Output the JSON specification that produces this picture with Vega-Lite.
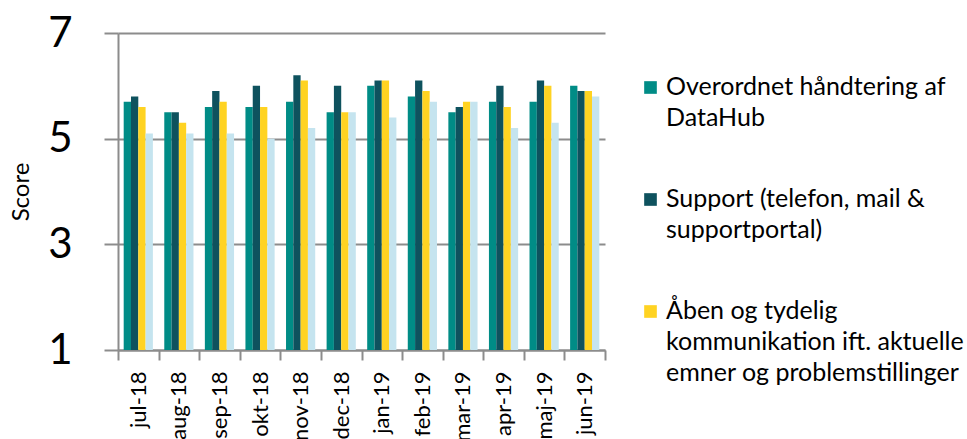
{
  "$schema": "https://vega.github.io/schema/vega-lite/v6.json",
  "width": 487,
  "height": 317,
  "autosize": "none",
  "padding": {"left": 118, "top": 33, "right": 362, "bottom": 89},
  "background": "white",
  "config": {
    "font": "Lato",
    "view": {"stroke": null}
  },
  "data": {
    "values": [
      {"month": "jul-18", "series": "A", "score": 5.7},
      {"month": "jul-18", "series": "B", "score": 5.8},
      {"month": "jul-18", "series": "C", "score": 5.6},
      {"month": "jul-18", "series": "D", "score": 5.1},
      {"month": "aug-18", "series": "A", "score": 5.5},
      {"month": "aug-18", "series": "B", "score": 5.5},
      {"month": "aug-18", "series": "C", "score": 5.3},
      {"month": "aug-18", "series": "D", "score": 5.1},
      {"month": "sep-18", "series": "A", "score": 5.6},
      {"month": "sep-18", "series": "B", "score": 5.9},
      {"month": "sep-18", "series": "C", "score": 5.7},
      {"month": "sep-18", "series": "D", "score": 5.1},
      {"month": "okt-18", "series": "A", "score": 5.6},
      {"month": "okt-18", "series": "B", "score": 6.0},
      {"month": "okt-18", "series": "C", "score": 5.6},
      {"month": "okt-18", "series": "D", "score": 5.0},
      {"month": "nov-18", "series": "A", "score": 5.7},
      {"month": "nov-18", "series": "B", "score": 6.2},
      {"month": "nov-18", "series": "C", "score": 6.1},
      {"month": "nov-18", "series": "D", "score": 5.2},
      {"month": "dec-18", "series": "A", "score": 5.5},
      {"month": "dec-18", "series": "B", "score": 6.0},
      {"month": "dec-18", "series": "C", "score": 5.5},
      {"month": "dec-18", "series": "D", "score": 5.5},
      {"month": "jan-19", "series": "A", "score": 6.0},
      {"month": "jan-19", "series": "B", "score": 6.1},
      {"month": "jan-19", "series": "C", "score": 6.1},
      {"month": "jan-19", "series": "D", "score": 5.4},
      {"month": "feb-19", "series": "A", "score": 5.8},
      {"month": "feb-19", "series": "B", "score": 6.1},
      {"month": "feb-19", "series": "C", "score": 5.9},
      {"month": "feb-19", "series": "D", "score": 5.7},
      {"month": "mar-19", "series": "A", "score": 5.5},
      {"month": "mar-19", "series": "B", "score": 5.6},
      {"month": "mar-19", "series": "C", "score": 5.7},
      {"month": "mar-19", "series": "D", "score": 5.7},
      {"month": "apr-19", "series": "A", "score": 5.7},
      {"month": "apr-19", "series": "B", "score": 6.0},
      {"month": "apr-19", "series": "C", "score": 5.6},
      {"month": "apr-19", "series": "D", "score": 5.2},
      {"month": "maj-19", "series": "A", "score": 5.7},
      {"month": "maj-19", "series": "B", "score": 6.1},
      {"month": "maj-19", "series": "C", "score": 6.0},
      {"month": "maj-19", "series": "D", "score": 5.3},
      {"month": "jun-19", "series": "A", "score": 6.0},
      {"month": "jun-19", "series": "B", "score": 5.9},
      {"month": "jun-19", "series": "C", "score": 5.9},
      {"month": "jun-19", "series": "D", "score": 5.8}
    ]
  },
  "mark": {"type": "bar"},
  "encoding": {
    "x": {
      "field": "month",
      "type": "nominal",
      "sort": null,
      "scale": {"paddingInner": 0, "paddingOuter": 0},
      "axis": {
        "title": null,
        "labelAngle": -90,
        "labelAlign": "right",
        "labelBaseline": "middle",
        "labelFontSize": 22,
        "labelColor": "#000000",
        "labelPadding": 11,
        "tickBand": "extent",
        "tickSize": 10,
        "tickColor": "#8c8c8c",
        "tickWidth": 2,
        "domainColor": "#8c8c8c",
        "domainWidth": 2
      }
    },
    "xOffset": {
      "field": "series",
      "type": "nominal",
      "scale": {"paddingInner": 0, "paddingOuter": 0.78}
    },
    "y": {
      "field": "score",
      "type": "quantitative",
      "scale": {"domain": [1, 7], "nice": false, "zero": false},
      "axis": {
        "title": "Score",
        "titleFontSize": 24,
        "titleFontWeight": "normal",
        "titleColor": "#000000",
        "titlePadding": 14,
        "values": [1, 3, 5, 7],
        "labelFontSize": 42,
        "labelColor": "#000000",
        "labelPadding": 32,
        "tickSize": 14,
        "tickColor": "#8c8c8c",
        "tickWidth": 2,
        "domainColor": "#8c8c8c",
        "domainWidth": 2,
        "grid": true,
        "gridColor": "#8c8c8c",
        "gridWidth": 2
      }
    },
    "y2": {"datum": 1},
    "color": {
      "field": "series",
      "type": "nominal",
      "scale": {
        "domain": ["A", "B", "C", "D"],
        "range": ["#008C86", "#0E525E", "#FFD322", "#C5E4EF"]
      },
      "legend": {
        "title": null,
        "values": ["A", "B", "C"],
        "orient": "none",
        "legendX": 520,
        "legendY": 42,
        "symbolType": "square",
        "symbolSize": 160,
        "symbolStrokeWidth": 0,
        "labelFontSize": 25,
        "labelColor": "#000000",
        "labelLimit": 0,
        "labelOffset": 3,
        "labelBaseline": "top",
        "rowPadding": 55,
        "labelExpr": "datum.label == 'A' ? ['Overordnet håndtering af', 'DataHub'] : datum.label == 'B' ? ['Support (telefon, mail &', 'supportportal)'] : ['Åben og tydelig', 'kommunikation ift. aktuelle', 'emner og problemstillinger']",
        "encode": {"labels": {"update": {"lineHeight": {"value": 31}, "dy": {"value": -13}}}}
      }
    }
  }
}
